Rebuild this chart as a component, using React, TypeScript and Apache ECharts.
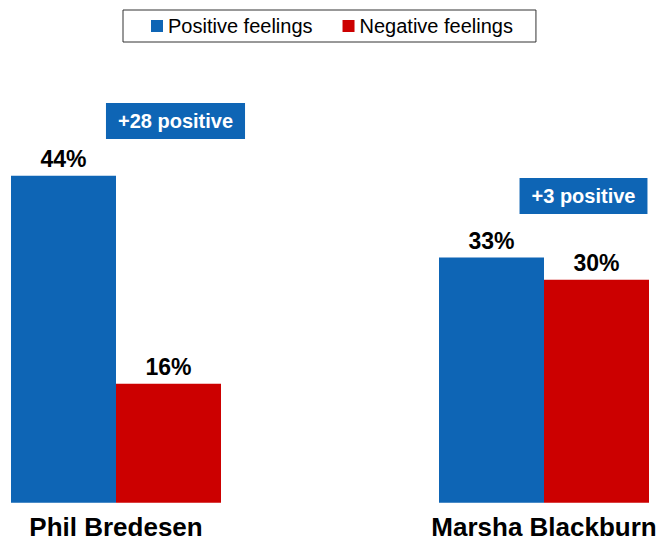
import React, { useEffect, useRef } from "react";
import * as echarts from "echarts";

const categories = ["Phil Bredesen", "", "Marsha Blackburn"];
const positive = [44, null, 33];
const negative = [16, null, 30];
const seriesNames = ["Positive feelings", "Negative feelings"];
// annotation anchor heights (value units) and horizontal nudges (px)
const noteIdx = [0, 2];
const noteY = [51.4, 41.3];
const noteDx = [59.5, 39.5];

const BLUE = "#0e65b5";
const RED = "#cc0000";
const FONT = "'Liberation Sans', Arial, sans-serif";

export default function App() {
  const ref = useRef<HTMLDivElement>(null);
  useEffect(() => {
    if (!ref.current) return;
    const chart = echarts.init(ref.current, undefined, { renderer: "svg" });
    const valueLabel = {
      show: true,
      position: "top",
      formatter: "{c}%",
      fontSize: 23,
      fontWeight: "bold",
      color: "#000",
      fontFamily: FONT,
      distance: 5,
    };
    chart.setOption({
      animation: false,
      textStyle: { fontFamily: FONT },
      legend: {
        top: 10,
        left: 123,
        data: seriesNames,
        itemWidth: 12,
        itemHeight: 12,
        itemGap: 30,
        icon: "rect",
        borderColor: "#333",
        borderWidth: 1,
        padding: [6, 23, 6, 28],
        textStyle: { fontSize: 20, color: "#000", fontFamily: FONT },
      },
      grid: { left: 9, right: 6, top: 57, bottom: 34.3, containLabel: false, outerBoundsMode: "none" },
      xAxis: {
        type: "category",
        data: categories,
        axisLine: { show: false },
        axisTick: { show: false },
        axisLabel: {
          interval: 0,
          fontSize: 26,
          fontWeight: "bold",
          color: "#000",
          fontFamily: FONT,
          margin: 11,
        },
      },
      yAxis: {
        type: "value",
        min: 0,
        max: 60,
        show: false,
        splitLine: { show: false },
      },
      series: [
        {
          name: seriesNames[0],
          type: "bar",
          data: positive,
          barWidth: 105,
          barGap: "0%",
          itemStyle: { color: BLUE },
          label: valueLabel,
        },
        {
          name: seriesNames[1],
          type: "bar",
          data: negative,
          barWidth: 105,
          barGap: "0%",
          itemStyle: { color: RED },
          label: valueLabel,
        },
      ],
    });
    const graphics = noteIdx.map((i, k) => {
      const diff = (positive[i] as number) - (negative[i] as number);
      const p = chart.convertToPixel({ gridIndex: 0 }, [i, noteY[k]]) as number[];
      return {
        type: "text",
        x: p[0] + noteDx[k],
        y: p[1],
        style: {
          text: `+${diff} positive`,
          fill: "#fff",
          fontSize: 20,
          fontWeight: "bold",
          fontFamily: FONT,
          lineHeight: 20,
          backgroundColor: BLUE,
          padding: [8, 12, 8, 12],
          align: "center",
          verticalAlign: "middle",
        },
      };
    });
    chart.setOption({ graphic: graphics });
    return () => chart.dispose();
  }, []);
  return (
    <div
      ref={ref}
      style={{ position: "fixed", left: 0, top: 0, width: 657, height: 537, background: "#fff" }}
    />
  );
}
